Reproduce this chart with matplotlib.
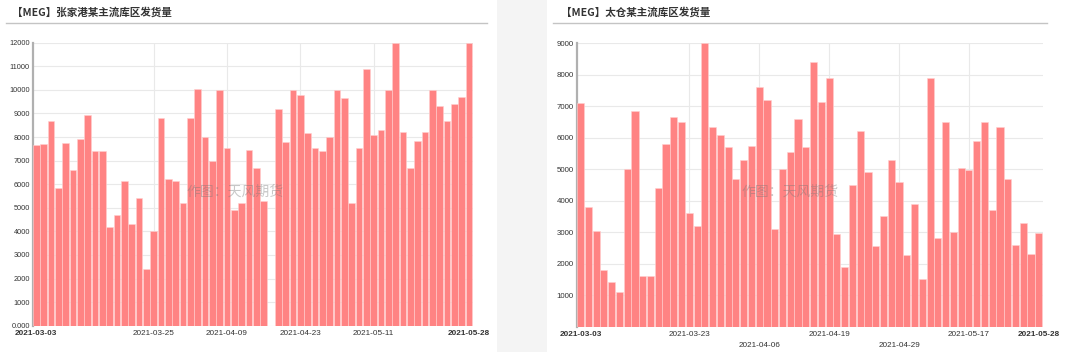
import matplotlib
matplotlib.use("Agg")
import matplotlib.pyplot as plt
from matplotlib.patches import Rectangle
from matplotlib.lines import Line2D

plt.rcParams['font.family'] = ['Liberation Sans', 'Noto Sans CJK SC', 'DejaVu Sans']

dates = (
    ["2021-03-%s" % d for d in ["03", "04", "05", "08", "09", "10", "11", "12", "15", "16", "17",
                                 "18", "19", "22", "23", "24", "25", "26", "29", "30", "31"]]
    + ["2021-04-%s" % d for d in ["01", "02", "06", "07", "08", "09", "12", "13", "14", "15", "16",
                                   "19", "20", "21", "22", "23", "25", "26", "27", "28", "29", "30"]]
    + ["2021-05-%s" % d for d in ["06", "07", "10", "11", "12", "13", "14", "17", "18", "19", "20",
                                   "21", "24", "25", "26", "27", "28"]]
)

zhangjiagang = [7650, 7700, 8700, 5830, 7750, 6600, 7900, 8950, 7400, 7400,
                4200, 4700, 6150, 4300, 5400, 2400, 4000, 8800, 6200, 6150,
                5200, 8800, 10050, 8000, 7000, 10000, 7550, 4900, 5200, 7450,
                6700, 5300, 0, 9200, 7800, 10000, 9800, 8150, 7550, 7400,
                8000, 10000, 9650, 5200, 7550, 10900, 8100, 8300, 10000, 12000,
                8200, 6700, 7850, 8200, 10000, 9300, 8700, 9400, 9700, 12000]

taicang = [7100, 3800, 3050, 1800, 1400, 1100, 5000, 6850, 1600, 1600,
           4400, 5800, 6650, 6500, 3600, 3200, 9000, 6330, 6100, 5700,
           4700, 5300, 5750, 7600, 7200, 3100, 5000, 5550, 6600, 5700,
           8400, 7150, 7900, 2950, 1900, 4500, 6200, 4900, 2550, 3500,
           5300, 4600, 2270, 3900, 1500, 7900, 2800, 6500, 3000, 5030,
           4980, 5900, 6500, 3700, 6330, 4700, 2600, 3300, 2300, 2970]

title_left = "【MEG】张家港某主流库区发货量"
title_right = "【MEG】太仓某主流库区发货量"
watermark = "作图：天风期货"

W, H = 1080, 352
fig = plt.figure(figsize=(W / 100, H / 100), dpi=100)
fig.patch.set_facecolor("white")

# background strip between panels
fig.patches.append(Rectangle((497 / W, 0), (547 - 497) / W, 1, transform=fig.transFigure,
                             facecolor="#f4f4f4", edgecolor="none", zorder=0))

cjk = ['Noto Sans CJK SC', 'DejaVu Sans']
fig.text(12 / W, 1 - 12 / H, title_left, fontsize=7.6, fontweight="bold", color="#333333",
         family=cjk, va="center", ha="left")
fig.text(561 / W, 1 - 12 / H, title_right, fontsize=7.6, fontweight="bold", color="#333333",
         family=cjk, va="center", ha="left")
fig.lines.append(Line2D([6 / W, 487 / W], [1 - 22.5 / H, 1 - 22.5 / H], transform=fig.transFigure,
                        color="#c4c4c4", lw=1))
fig.lines.append(Line2D([553 / W, 1047 / W], [1 - 22.5 / H, 1 - 22.5 / H], transform=fig.transFigure,
                        color="#c4c4c4", lw=1))

bar_color = "#ff8383"


def panel(rect, values, ymax, ticks, lower, ylabel_size, zero_label, wm_x):
    ax = fig.add_axes(rect)
    x = list(range(len(values)))
    ax.bar(x, values, width=0.92, color=bar_color, edgecolor="#ffd0d0", linewidth=0.4, zorder=3)
    ax.set_xlim(-0.5, len(values) - 0.5)
    ax.set_ylim(0, ymax)
    yt = list(range(0, ymax + 1, 1000))
    ax.set_yticks(yt)
    labels = [str(v) for v in yt]
    labels[0] = zero_label
    ax.set_yticklabels(labels, fontsize=ylabel_size, color="#333333")
    ax.tick_params(axis="y", length=0, pad=2)
    ax.grid(axis="y", color="#e9e9e9", lw=0.8, zorder=0)
    for t in ticks[1:-1]:
        ax.axvline(t, color="#e9e9e9", lw=0.8, zorder=0)
    ax.set_xticks(ticks)
    ax.set_xticklabels([dates[i] for i in ticks], fontsize=5.9, color="#333333")
    ax.tick_params(axis="x", length=0, pad=3)
    xt = ax.xaxis.get_major_ticks()
    for k, i in enumerate(ticks):
        if i in lower:
            xt[k].set_pad(11.5)
    tl = ax.get_xticklabels()
    tl[0].set_fontweight("bold")
    tl[-1].set_fontweight("bold")
    for s in ["top", "right", "bottom"]:
        ax.spines[s].set_visible(False)
    ax.spines["left"].set_color("#b0b0b0")
    ax.spines["left"].set_linewidth(1.6)
    ax.set_facecolor("none")
    ax.text(wm_x, 0.475, watermark, transform=ax.transAxes, fontsize=10, color="#777777",
            alpha=0.4, family=cjk, ha="center", va="center", zorder=5)
    return ax


panel([32.7 / W, 26.3 / H, 440 / W, 283 / H], zhangjiagang, 12000,
      [0, 16, 26, 36, 46, 59], [], 5.3, "0.000", (235 - 32.7) / 440)
panel([576.7 / W, 25.5 / H, 466 / W, 283.2 / H], taicang, 9000,
      [0, 14, 23, 32, 41, 50, 59], [23, 41], 5.7, "", (790 - 576.7) / 466)

fig.savefig("out.png", dpi=100)
